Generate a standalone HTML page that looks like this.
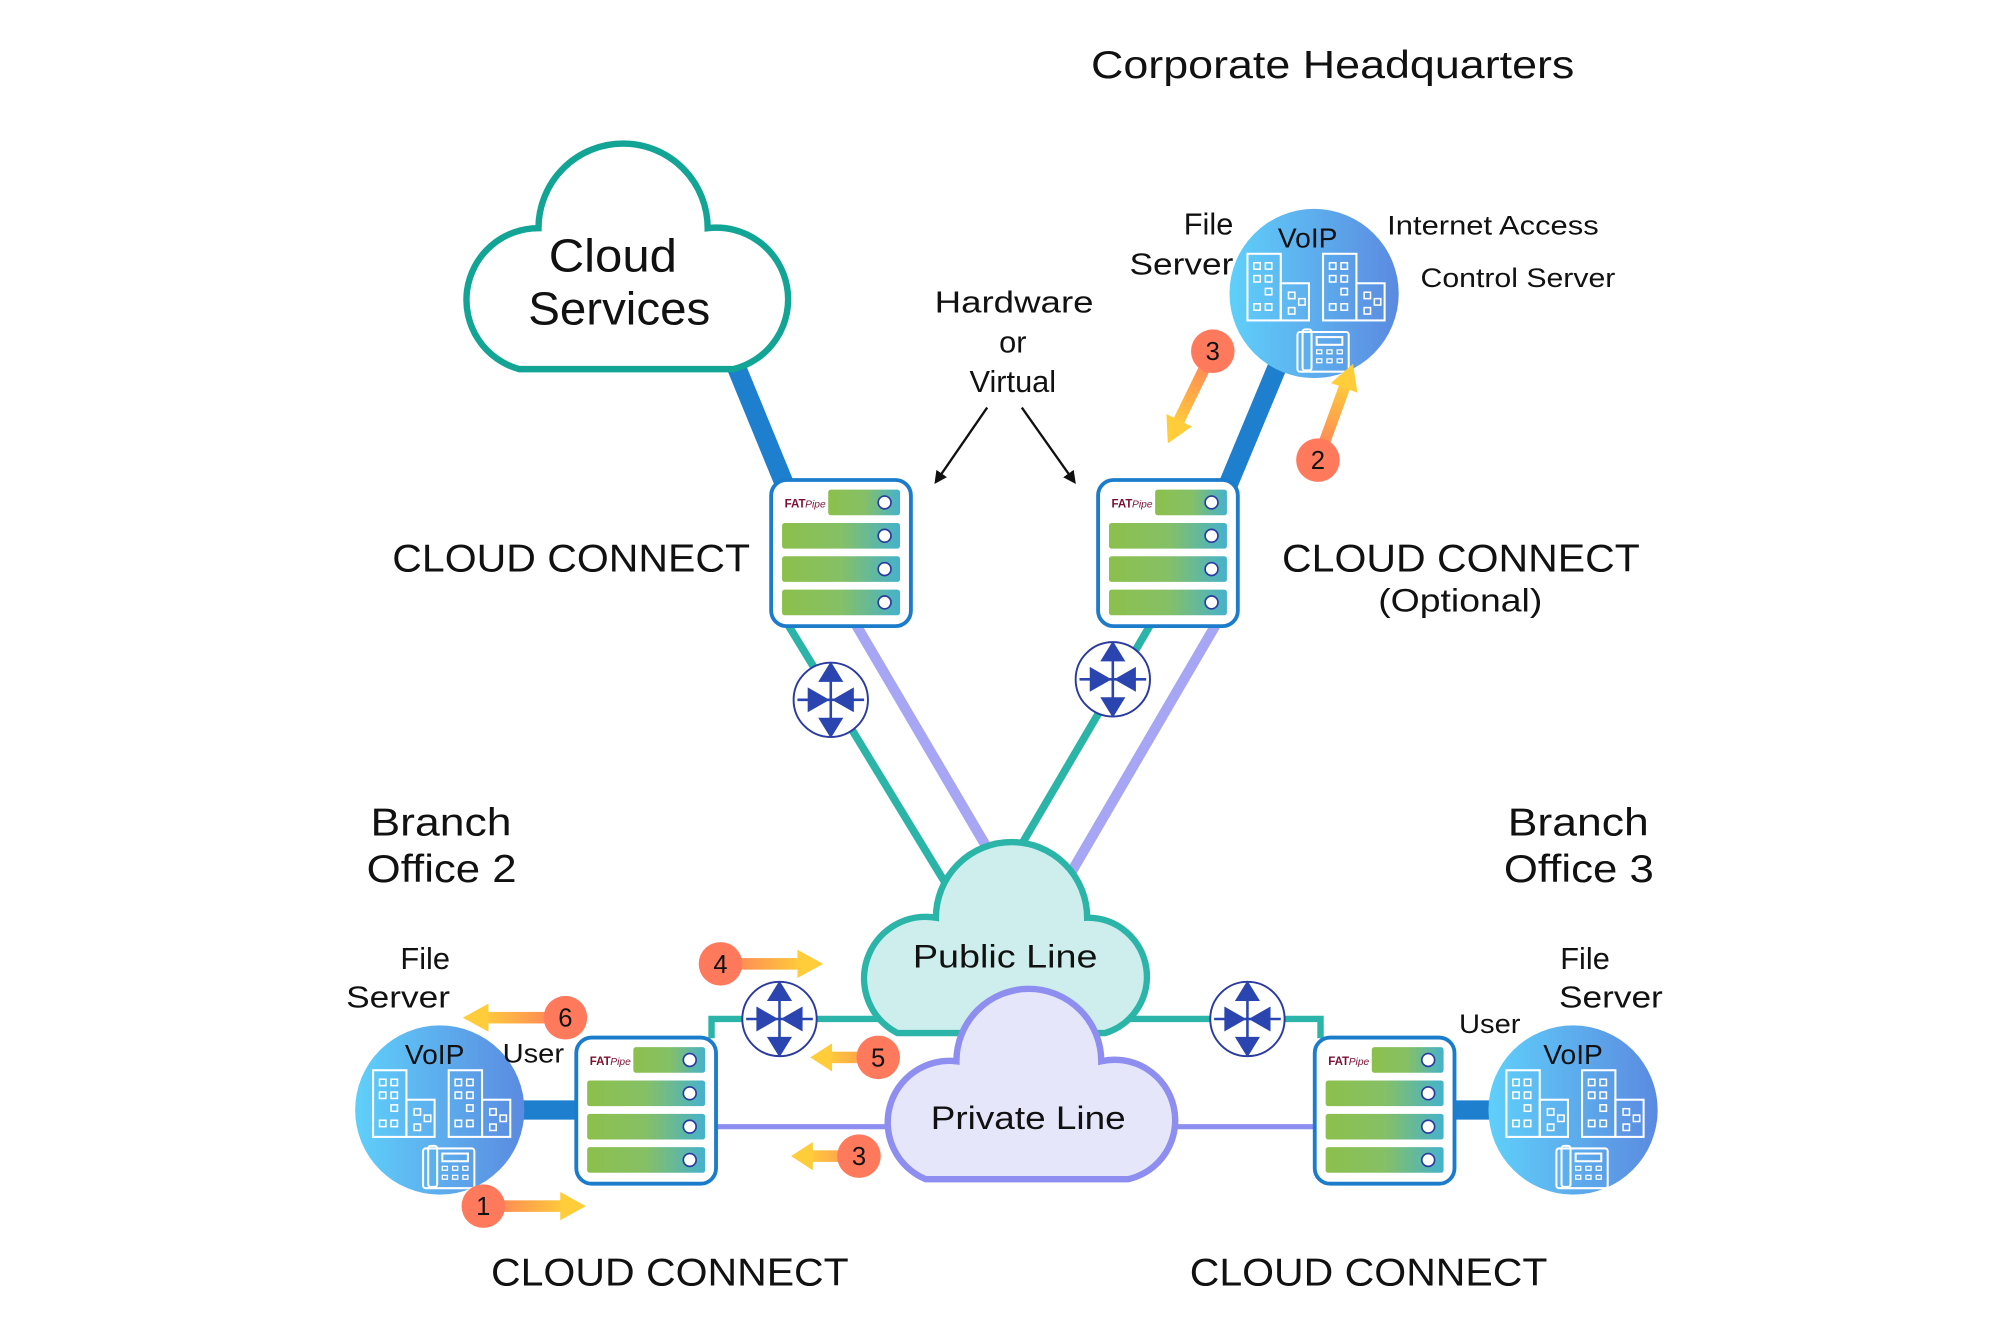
<!DOCTYPE html>
<html><head><meta charset="utf-8"><style>
html,body{margin:0;padding:0;background:#fff}
svg{display:block}
text{font-family:"Liberation Sans",sans-serif;fill:#111}
</style></head><body>
<svg width="2000" height="1333" viewBox="0 0 1560 1040" preserveAspectRatio="none" xmlns="http://www.w3.org/2000/svg">
<defs>
<linearGradient id="bar" x1="0" x2="1"><stop offset="0" stop-color="#8cc04c"/><stop offset="0.5" stop-color="#86c066"/><stop offset="1" stop-color="#45b2cc"/></linearGradient>
<linearGradient id="site" x1="0" x2="1"><stop offset="0" stop-color="#5fd0fa"/><stop offset="1" stop-color="#5b8ae0"/></linearGradient>
<linearGradient id="arR" x1="0" x2="1"><stop offset="0" stop-color="#ff7a5c"/><stop offset="1" stop-color="#ffcc3a"/></linearGradient>
<marker id="blk" markerWidth="10" markerHeight="10" refX="8" refY="5" orient="auto" markerUnits="userSpaceOnUse"><path d="M0,0 L10,5 L0,10 Z" fill="#111"/></marker>
<g id="srv">
 <rect x="1.5" y="1.5" width="109" height="114" rx="12" fill="#fff" stroke="#1b7ccc" stroke-width="3"/>
 <rect x="46" y="9" width="56" height="20" rx="2" fill="url(#bar)"/>
 <rect x="10" y="35" width="92" height="20" rx="2" fill="url(#bar)"/>
 <rect x="10" y="61" width="92" height="20" rx="2" fill="url(#bar)"/>
 <rect x="10" y="87" width="92" height="20" rx="2" fill="url(#bar)"/>
 <g fill="#fff" stroke="#2a3a9f" stroke-width="1.3">
 <circle cx="90" cy="19" r="5"/><circle cx="90" cy="45" r="5"/><circle cx="90" cy="71" r="5"/><circle cx="90" cy="97" r="5"/></g>
 <text x="12" y="23" font-size="9" font-weight="bold" style="fill:#7a1030">FAT</text><text x="28" y="23" font-size="8" font-style="italic" style="fill:#7a1030">Pipe</text>
</g>
<g id="rtr">
 <circle r="29" fill="#fff" stroke="#2a3a9f" stroke-width="1.5"/>
 <g fill="#2a44b0" stroke="#2a44b0" stroke-width="2">
 <line x1="0" y1="-26" x2="0" y2="26"/><line x1="-26" y1="0" x2="26" y2="0"/>
 <path d="M0,-28 L-8,-15 L8,-15 Z"/><path d="M0,28 L-8,15 L8,15 Z"/>
 <path d="M-3,0 L-17,-8 L-17,8 Z"/><path d="M3,0 L17,-8 L17,8 Z"/></g>
</g>
<g id="bld" fill="none" stroke="#fff" stroke-width="1.6">
 <rect x="-55" y="-28" width="26" height="52"/><rect x="-29" y="-5" width="22" height="29"/>
 <rect x="4" y="-28" width="26" height="52"/><rect x="30" y="-5" width="22" height="29"/>
 <g stroke-width="1.2">
 <rect x="-50" y="-21" width="5" height="5"/><rect x="-41" y="-21" width="5" height="5"/><rect x="-50" y="-11" width="5" height="5"/><rect x="-41" y="-11" width="5" height="5"/><rect x="-41" y="-1" width="5" height="5"/><rect x="-50" y="11" width="5" height="5"/><rect x="-41" y="11" width="5" height="5"/>
 <rect x="-23" y="2" width="5" height="5"/><rect x="-15" y="7" width="5" height="5"/><rect x="-23" y="14" width="5" height="5"/>
 <rect x="9" y="-21" width="5" height="5"/><rect x="18" y="-21" width="5" height="5"/><rect x="9" y="-11" width="5" height="5"/><rect x="18" y="-11" width="5" height="5"/><rect x="18" y="-1" width="5" height="5"/><rect x="9" y="11" width="5" height="5"/><rect x="18" y="11" width="5" height="5"/>
 <rect x="36" y="2" width="5" height="5"/><rect x="44" y="7" width="5" height="5"/><rect x="36" y="14" width="5" height="5"/></g>
 <rect x="-16" y="33" width="40" height="31" rx="2"/><rect x="-12" y="31" width="7" height="32" rx="2"/>
 <rect x="-1" y="37" width="20" height="6"/>
 <g stroke-width="1"><rect x="-1" y="47" width="4" height="3"/><rect x="7" y="47" width="4" height="3"/><rect x="15" y="47" width="4" height="3"/><rect x="-1" y="54" width="4" height="3"/><rect x="7" y="54" width="4" height="3"/><rect x="15" y="54" width="4" height="3"/></g>
</g>
<g id="arrH">
 <rect x="0" y="-4.5" width="64" height="9" fill="url(#arR)"/>
 <path d="M60,-11 L80,0 L60,11 Z" fill="#ffcc3a"/>
</g>
</defs>

<g stroke="#1e7fcf" stroke-width="15">
<line x1="573" y1="283" x2="612" y2="378"/>
<line x1="998" y1="282" x2="958" y2="378"/>
<line x1="405" y1="866" x2="452" y2="866"/>
<line x1="1130" y1="866" x2="1166" y2="866"/>
</g>
<g fill="none">
<line x1="668" y1="488" x2="772" y2="665" stroke="#a6a6f5" stroke-width="8"/>
<line x1="948" y1="488" x2="833" y2="685" stroke="#a6a6f5" stroke-width="8"/>
<line x1="615" y1="488" x2="738" y2="690" stroke="#2bb5a8" stroke-width="6"/>
<line x1="897" y1="488" x2="795" y2="662" stroke="#2bb5a8" stroke-width="6"/>
<path d="M555,810 V795 H690" stroke="#2bb5a8" stroke-width="5"/>
<path d="M880,795 H1030 V810" stroke="#2bb5a8" stroke-width="5"/>
<line x1="558" y1="879" x2="695" y2="879" stroke="#8e8ef0" stroke-width="4"/>
<line x1="910" y1="879" x2="1026" y2="879" stroke="#8e8ef0" stroke-width="4"/>
</g>

<path d="M405,288 A56,56 0 0 1 420,178 A66,66 0 0 1 552,178 A56,56 0 0 1 572,288 Z" fill="#fff" stroke="#12a595" stroke-width="5"/>
<path d="M700,806 A48,48 0 0 1 730,716 A59,59 0 0 1 848,716 A46,46 0 0 1 862,806 Z" fill="#cdeeed" stroke="#2bb5a8" stroke-width="5"/>
<path d="M722,920 A48,48 0 0 1 746,828 A56.5,56.5 0 0 1 859,828 A47,47 0 0 1 880,920 Z" fill="#e6e6fb" stroke="#8e8ef0" stroke-width="5"/>

<use href="#srv" x="600" y="373"/><use href="#srv" x="855" y="373"/>
<use href="#srv" x="448" y="808"/><use href="#srv" x="1024" y="808"/>
<use href="#rtr" x="648" y="546"/><use href="#rtr" x="868" y="530"/>
<use href="#rtr" x="608" y="795"/><use href="#rtr" x="973" y="795"/>

<circle cx="1025" cy="229" r="66" fill="url(#site)"/><use href="#bld" x="1028" y="226"/>
<circle cx="343" cy="866" r="66" fill="url(#site)"/><use href="#bld" x="346" y="863"/>
<circle cx="1227" cy="866" r="66" fill="url(#site)"/><use href="#bld" x="1230" y="863"/>

<line x1="770" y1="318" x2="730" y2="376" stroke="#111" stroke-width="1.8" marker-end="url(#blk)"/>
<line x1="797" y1="318" x2="838" y2="376" stroke="#111" stroke-width="1.8" marker-end="url(#blk)"/>

<use href="#arrH" transform="translate(946,274) rotate(116)"/>
<use href="#arrH" transform="translate(1028,359) rotate(-70)"/>
<use href="#arrH" transform="translate(562,752)"/>
<use href="#arrH" transform="translate(441,794) rotate(180)"/>
<use href="#arrH" transform="translate(700,825) rotate(180) scale(0.85,1)"/>
<use href="#arrH" transform="translate(685,902) rotate(180) scale(0.85,1)"/>
<use href="#arrH" transform="translate(377,941)"/>
<g fill="#ff7a5c">
<circle cx="946" cy="274" r="17"/><circle cx="1028" cy="359" r="17"/><circle cx="562" cy="752" r="17"/>
<circle cx="441" cy="794" r="17"/><circle cx="685" cy="825" r="17"/><circle cx="670" cy="902" r="17"/><circle cx="377" cy="941" r="17"/></g>
<g font-size="20" text-anchor="middle">
<text x="946" y="281">3</text><text x="1028" y="366">2</text><text x="562" y="759">4</text>
<text x="441" y="801">6</text><text x="685" y="832">5</text><text x="670" y="909">3</text><text x="377" y="948">1</text></g>

<g>
<text x="851" y="61" font-size="30" textLength="377" lengthAdjust="spacingAndGlyphs">Corporate Headquarters</text>
<text x="428" y="212" font-size="36" textLength="100" lengthAdjust="spacingAndGlyphs">Cloud</text>
<text x="412" y="253" font-size="36" textLength="142" lengthAdjust="spacingAndGlyphs">Services</text>
<text x="729" y="244" font-size="24" textLength="124" lengthAdjust="spacingAndGlyphs">Hardware</text>
<text x="790" y="275" font-size="24" text-anchor="middle">or</text>
<text x="790" y="306" font-size="24" text-anchor="middle">Virtual</text>
<text x="962" y="183" font-size="24" text-anchor="end">File</text>
<text x="881" y="214" font-size="24" textLength="81" lengthAdjust="spacingAndGlyphs">Server</text>
<text x="1020" y="193" font-size="22" text-anchor="middle">VoIP</text>
<text x="1082" y="183" font-size="21" textLength="165" lengthAdjust="spacingAndGlyphs">Internet Access</text>
<text x="1108" y="224" font-size="21" textLength="152" lengthAdjust="spacingAndGlyphs">Control Server</text>
<text x="306" y="446" font-size="30" textLength="279" lengthAdjust="spacingAndGlyphs">CLOUD CONNECT</text>
<text x="1000" y="446" font-size="30" textLength="279" lengthAdjust="spacingAndGlyphs">CLOUD CONNECT</text>
<text x="383" y="1003" font-size="30" textLength="279" lengthAdjust="spacingAndGlyphs">CLOUD CONNECT</text>
<text x="928" y="1003" font-size="30" textLength="279" lengthAdjust="spacingAndGlyphs">CLOUD CONNECT</text>
<text x="289" y="652" font-size="30" textLength="110" lengthAdjust="spacingAndGlyphs">Branch</text>
<text x="286" y="688" font-size="30" textLength="117" lengthAdjust="spacingAndGlyphs">Office 2</text>
<text x="1176" y="652" font-size="30" textLength="110" lengthAdjust="spacingAndGlyphs">Branch</text>
<text x="1173" y="688" font-size="30" textLength="117" lengthAdjust="spacingAndGlyphs">Office 3</text>
<text x="1075" y="477" font-size="25" textLength="128" lengthAdjust="spacingAndGlyphs">(Optional)</text>
<text x="712" y="755" font-size="25" textLength="144" lengthAdjust="spacingAndGlyphs">Public Line</text>
<text x="726" y="881" font-size="25" textLength="152" lengthAdjust="spacingAndGlyphs">Private Line</text>
<text x="351" y="756" font-size="24" text-anchor="end">File</text>
<text x="270" y="786" font-size="24" textLength="81" lengthAdjust="spacingAndGlyphs">Server</text>
<text x="339" y="830" font-size="22" text-anchor="middle">VoIP</text>
<text x="392" y="829" font-size="21" textLength="48" lengthAdjust="spacingAndGlyphs">User</text>
<text x="1138" y="806" font-size="21" textLength="48" lengthAdjust="spacingAndGlyphs">User</text>
<text x="1217" y="756" font-size="24">File</text>
<text x="1216" y="786" font-size="24" textLength="81" lengthAdjust="spacingAndGlyphs">Server</text>
<text x="1227" y="830" font-size="22" text-anchor="middle">VoIP</text>
</g>
</svg>
</body></html>
